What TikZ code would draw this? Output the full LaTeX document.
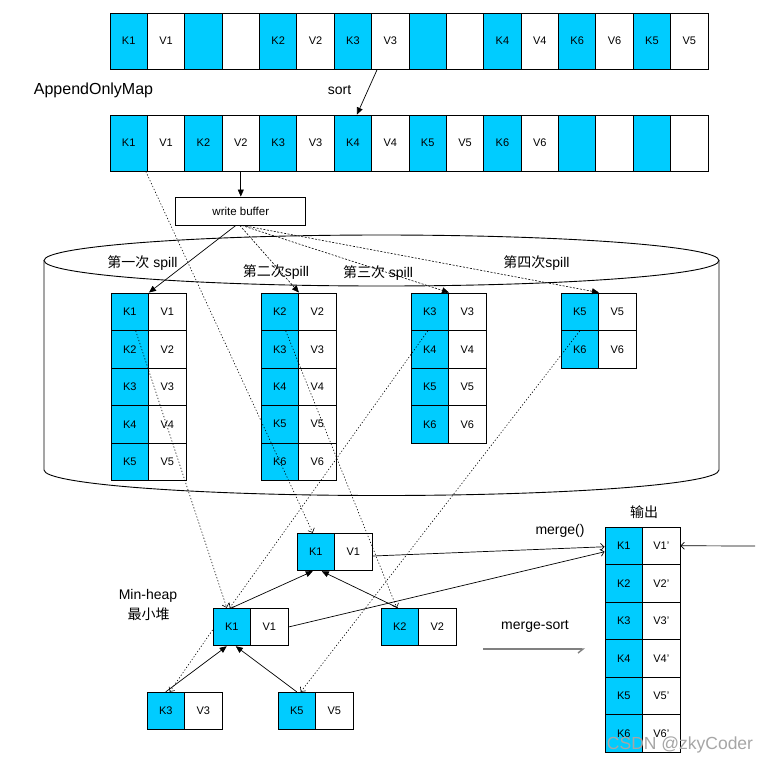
\documentclass[tikz,border=0pt]{standalone}
\usepackage{fontspec}
\setmainfont{Liberation Sans}
\newfontfamily\cjk{Noto Sans CJK SC}
\usetikzlibrary{arrows.meta}
\definecolor{keyblue}{RGB}{0,204,255}
\begin{document}
\begin{tikzpicture}[x=1pt,y=-1pt,
  cell/.style={draw, line width=0.9pt, inner sep=0pt, font=\fontsize{11}{13}\selectfont},
  wide/.style={cell, minimum width=37.375pt, minimum height=56pt},
  sq/.style={cell, minimum width=37.5pt, minimum height=37.5pt},
  kc/.style={fill=keyblue},
  vc/.style={fill=white},
  lbl/.style={font=\fontsize{14}{16}\selectfont, inner sep=0pt},
  dotline/.style={line width=0.6pt, dash pattern=on 1.2pt off 2pt},
  dashline/.style={line width=0.6pt, dash pattern=on 2pt off 1.5pt},
  fillarrow/.style={-{Triangle[length=7pt,width=6pt]}, line width=0.7pt},
  openarrow/.style={-{Straight Barb[length=3.5pt,width=7pt]}},
]
\useasboundingbox (0,0) rectangle (770,764);

% cylinder (disk)
\draw[line width=0.9pt] (44,260.5) -- (44,470)
  arc[start angle=180, end angle=0, x radius=337.5, y radius=25.5] -- (719,260.5);
\draw[line width=0.9pt] (381.5,260.5) ellipse [x radius=337.5, y radius=25.5];

% top array (AppendOnlyMap)
\foreach \k/\v [count=\i] in {K1/V1,{}/{},K2/V2,K3/V3,{}/{},K4/V4,K6/V6,K5/V5}{
  \node[wide,kc] (ta\i) at ({110+(\i-1)*74.75+18.6875},41) {\k};
  \node[wide,vc] (tb\i) at ({110+(\i-1)*74.75+56.0625},41) {\v};
}
% sorted array
\foreach \k/\v [count=\i] in {K1/V1,K2/V2,K3/V3,K4/V4,K5/V5,K6/V6,{}/{},{}/{}}{
  \node[wide,kc] (sa\i) at ({110+(\i-1)*74.75+18.6875},143) {\k};
  \node[wide,vc] (sb\i) at ({110+(\i-1)*74.75+56.0625},143) {\v};
}

\node[font=\fontsize{16}{18}\selectfont, inner sep=0pt] (aom) at (93.5,90) {AppendOnlyMap};
\node[lbl] (sortl) at (339.5,90) {sort};
\draw[fillarrow] ([xshift=6pt]tb4.south west) -- ([xshift=4pt]sa4.north);

% write buffer
\node[draw, line width=0.9pt, minimum width=130pt, minimum height=28pt, inner sep=0pt,
      font=\fontsize{11.5}{13}\selectfont] (wb) at (240.8,211) {write buffer};
\draw[fillarrow] (sb2.south) -- (sb2.south |- wb.north);

% spill blocks
\foreach \b/\xl/\lst in {1/111/{1,2,3,4,5},2/261/{2,3,4,5,6},3/411/{3,4,5,6},4/561/{5,6}}{
  \foreach \n [count=\r] in \lst {
    \node[sq,kc] (b\b-k\r) at ({\xl+18.75},{293+(\r-0.5)*37.5}) {K\n};
    \node[sq,vc] (b\b-v\r) at ({\xl+56.25},{293+(\r-0.5)*37.5}) {V\n};
  }
}

% spill labels
\node[lbl] (sp1) at (142.5,263) {{\cjk 第一次} spill};
\node[lbl] (sp2) at (276,272) {{\cjk 第二次}spill};
\node[lbl] (sp3) at (378,273) {{\cjk 第三次} spill};
\node[lbl] (sp4) at (536.5,263) {{\cjk 第四次}spill};

% spill arrows
\draw[fillarrow] ([xshift=-5pt]wb.south) -- (b1-k1.north east);
\draw[fillarrow,dashline] ([xshift=-1pt]wb.south) -- (b2-k1.north east);
\draw[fillarrow,dashline] ([xshift=1pt]wb.south) -- (b3-k1.north east);
\draw[fillarrow,dashline] ([xshift=2pt]wb.south) -- (b4-k1.north east);

% heap nodes
\node[sq,kc] (h1k) at (315.75,552) {K1};
\node[sq,vc] (h1v) at (353.25,552) {V1};
\node[sq,kc] (hmk) at (231.75,627) {K1};
\node[sq,vc] (hmv) at (269.25,627) {V1};
\node[sq,kc] (h2k) at (399.75,627) {K2};
\node[sq,vc] (h2v) at (437.25,627) {V2};
\node[sq,kc] (h3k) at (165.75,711) {K3};
\node[sq,vc] (h3v) at (203.25,711) {V3};
\node[sq,kc] (h5k) at (296.75,711) {K5};
\node[sq,vc] (h5v) at (334.25,711) {V5};

\node[lbl] (mh1) at (148,596) {Min-heap};
\node[lbl] (mh2) at (148.5,614) {\cjk 最小堆};

% output column
\foreach \n [count=\r] in {1,...,6}{
  \node[sq,kc] (o-k\r) at (623.75,{527+(\r-0.5)*37.5}) {K\n};
  \node[sq,vc] (o-v\r) at (661.25,{527+(\r-0.5)*37.5}) {V\n'};
}
\node[lbl] (outl) at (644,512) {\cjk 输出};
\node[lbl] (mergel) at (560,531) {merge()};
\node[lbl] (msl) at (535,626) {merge-sort};

% solid heap arrows
\draw[fillarrow] (hmk.north) -- ([xshift=-3pt]h1k.south);
\draw[fillarrow] ([xshift=-2pt]h2k.north) -- ([xshift=6pt]h1k.south);
\draw[fillarrow] (h3k.north) -- ([xshift=-5pt]hmk.south);
\draw[fillarrow] (h5k.north) -- ([xshift=4pt]hmk.south);

% dotted data-flow lines
\draw[dotline,openarrow] ([xshift=-2pt]sa1.south east) -- ([xshift=-3pt]h1k.north);
\draw[dotline,openarrow] ([xshift=6pt]b1-k1.south) -- ([xshift=-5pt]hmk.north);
\draw[dotline,openarrow] ([xshift=6pt]b2-k1.south) -- ([xshift=-3pt]h2k.north);
\draw[dotline,openarrow] ([xshift=-2pt]b3-k1.south) -- ([xshift=-2pt]hmk.north);
\draw[dotline,openarrow] (b4-k1.south) -- ([xshift=4pt]h5k.north);
\draw[dotline,openarrow] ([yshift=-3pt]hmk.west) -- ([xshift=4pt]h3k.north);

% merge lines
\draw[line width=0.7pt,openarrow] ([yshift=-4pt]h1v.east) -- ([yshift=-1pt]o-k1.west);
\draw[line width=0.7pt,openarrow] (hmv.east) -- ([yshift=-6pt]o-k1.west);
\coordinate (rin) at (755,546);
\draw[line width=0.7pt,openarrow] (rin) -- (o-v1.east);
\coordinate (ms1) at (483,649);
\coordinate (ms2) at (585,649);
\draw[gray, line width=1.4pt, -{Straight Barb[right,length=5pt,width=8pt]}] (ms1) -- (ms2);

% watermark
\node[text=black!35, font=\fontsize{17.5}{19}\selectfont, inner sep=0pt] (wm) at (680,745) {CSDN @zkyCoder};
\end{tikzpicture}
\end{document}
